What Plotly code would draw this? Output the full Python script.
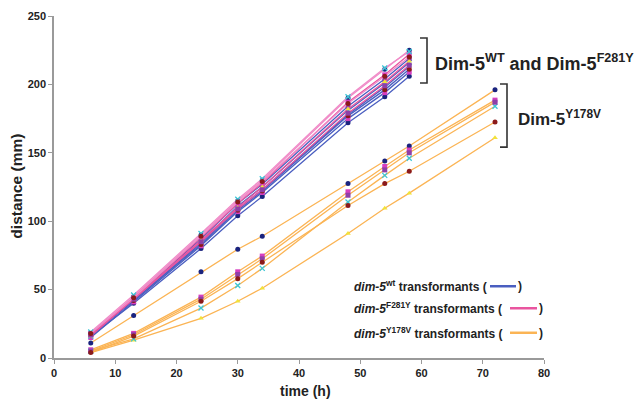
import plotly.graph_objects as go

# ---------------- data ----------------
t_wt = [6, 13, 24, 30, 34, 48, 54, 58]
t_y178v = [6, 13, 24, 30, 34, 48, 54, 58, 72]

wt_1 = [16, 40, 80, 104, 118, 172, 191, 206]
wt_2 = [15, 41, 82, 107, 121, 175, 194, 209]
wt_3 = [17, 42, 84, 109, 123, 178, 198, 213]
wt_4 = [16, 43, 85, 111, 125, 181, 201, 216]
wt_5 = [18, 44, 87, 113, 127, 184, 204, 219]
wt_6 = [17, 42, 83, 108, 122, 177, 196, 211]

f281y_1 = [18, 45, 90, 115, 130, 190, 211, 225]
f281y_2 = [17, 44, 88, 113, 128, 187, 207, 222]
f281y_3 = [16, 43, 86, 110, 125, 182, 202, 217]
f281y_4 = [19, 46, 91, 116, 131, 191, 212, 224]
f281y_5 = [17, 43, 85, 109, 123, 179, 199, 214]
f281y_6 = [18, 44, 89, 114, 129, 186, 206, 220]

y178v_1 = [11, 31, 63, 79.5, 89, 127.5, 144, 155, 196]
y178v_2 = [6, 18, 44.5, 63, 74.5, 121.5, 140, 152, 188.5]
y178v_3 = [4, 13, 29, 41.5, 51, 91, 109.5, 120.5, 161]
y178v_4 = [5, 14, 36.5, 53, 65.5, 114, 133.5, 146, 184]
y178v_5 = [5, 17, 43, 61, 72.5, 119, 137.5, 150, 187]
y178v_6 = [4, 16, 41.5, 58, 70, 111.5, 127.5, 136.5, 172.5]

x_ticks = [0, 10, 20, 30, 40, 50, 60, 70, 80]
y_ticks = [0, 50, 100, 150, 200, 250]

# ---------------- styles ----------------
marker_colors = ["#1a237e", "#d63fc0", "#f2e23a", "#39c6d6", "#8e3fa8", "#8b1a1a"]
marker_symbols = ["circle", "square", "triangle-up", "x-thin-open", "square", "circle"]
BLUE = "#4a5ec0"
PINK = "#e9559f"
PINK_L = "#f08cc8"
ORANGE = "#fbb454"

fig = go.Figure()

def add_series(x, y, line_color, k, width=1.3):
    sym = marker_symbols[k]
    mk = dict(color=marker_colors[k], size=5, symbol=sym)
    if sym.endswith("open"):
        mk["line"] = dict(color=marker_colors[k], width=1.3)
    fig.add_trace(go.Scatter(x=x, y=y, mode="lines+markers",
                             line=dict(color=line_color, width=width),
                             marker=mk, showlegend=False, hoverinfo="x+y"))

for k, s in enumerate([y178v_1, y178v_2, y178v_3, y178v_4, y178v_5, y178v_6]):
    add_series(t_y178v, s, ORANGE, k)
for k, s in enumerate([wt_1, wt_2, wt_3, wt_4, wt_5, wt_6]):
    add_series(t_wt, s, BLUE, k)
pinks = [PINK_L, PINK, PINK, PINK_L, PINK, PINK_L]
for k, s in enumerate([f281y_1, f281y_2, f281y_3, f281y_4, f281y_5, f281y_6]):
    add_series(t_wt, s, pinks[k], k)

# ---------------- layout helpers (pixel -> paper) ----------------
L, R, T, B = 54, 544, 16, 357.7
def px(x):
    return (x - L) / (R - L)
def py(y):
    return (B - y) / (B - T)

FONT = "Liberation Sans, Arial, sans-serif"
TXT = "#222222"

shapes = []
# brackets
for (x0, x1, y0, y1) in [(420, 427, 38, 83), (500, 507, 84, 147)]:
    shapes.append(dict(type="path", xref="paper", yref="paper",
                       path=f"M {px(x0)} {py(y0)} L {px(x1)} {py(y0)} L {px(x1)} {py(y1)} L {px(x0)} {py(y1)}",
                       line=dict(color="#333333", width=1.6)))
# legend line samples
for (x0, x1, yy, c) in [(490, 516, 286, BLUE), (510, 537, 308, PINK), (510, 537, 332.5, ORANGE)]:
    shapes.append(dict(type="line", xref="paper", yref="paper",
                       x0=px(x0), x1=px(x1), y0=py(yy), y1=py(yy),
                       line=dict(color=c, width=2.5)))

LEG = 12
annotations = [
    dict(text="<b>Dim-5<sup>WT</sup> and Dim-5<sup>F281Y</sup></b>", x=px(433), y=py(62),
         xanchor="left", yanchor="middle", font=dict(size=18)),
    dict(text="<b>Dim-5<sup>Y178V</sup></b>", x=px(516), y=py(118),
         xanchor="left", yanchor="middle", font=dict(size=17)),
    dict(text="<b><i>dim-5</i><sup>wt</sup> transformants (</b>", x=px(352), y=py(286),
         xanchor="left", yanchor="middle", font=dict(size=LEG)),
    dict(text="<b>)</b>", x=px(516), y=py(286), xanchor="left", yanchor="middle", font=dict(size=LEG)),
    dict(text="<b><i>dim-5</i><sup>F281Y</sup> transformants (</b>", x=px(352), y=py(308),
         xanchor="left", yanchor="middle", font=dict(size=LEG)),
    dict(text="<b>)</b>", x=px(537), y=py(308), xanchor="left", yanchor="middle", font=dict(size=LEG)),
    dict(text="<b><i>dim-5</i><sup>Y178V</sup> transformants (</b>", x=px(352), y=py(332.5),
         xanchor="left", yanchor="middle", font=dict(size=LEG)),
    dict(text="<b>)</b>", x=px(537), y=py(332.5), xanchor="left", yanchor="middle", font=dict(size=LEG)),
    # axis titles
    dict(text="<b>time (h)</b>", x=px(305), y=py(391), xanchor="center", yanchor="middle",
         font=dict(size=14)),
    dict(text="<b>distance (mm)</b>", x=px(16.5), y=py(186), xanchor="center", yanchor="middle",
         textangle=-90, font=dict(size=15.5)),
]
for a in annotations:
    a.update(xref="paper", yref="paper", showarrow=False)
    a["font"].update(family=FONT, color=TXT)

fig.update_layout(
    width=641, height=405,
    margin=dict(l=L, r=641 - R, t=T, b=405 - B, autoexpand=False),
    paper_bgcolor="white", plot_bgcolor="white",
    font=dict(family=FONT, color=TXT),
    shapes=shapes, annotations=annotations,
    xaxis=dict(range=[0, 80], tickvals=x_ticks, ticktext=[f"<b>{v}</b>" for v in x_ticks],
               showgrid=False, zeroline=False, showline=True, linecolor="#9a9a9a", linewidth=1.5,
               ticks="outside", ticklen=4, tickcolor="#9a9a9a", automargin=False,
               tickfont=dict(size=11, color=TXT)),
    yaxis=dict(range=[0, 250], tickvals=y_ticks, ticktext=[f"<b>{v}</b>" for v in y_ticks],
               showgrid=False, zeroline=False, showline=True, linecolor="#9a9a9a", linewidth=1.5,
               ticks="outside", ticklen=4, tickcolor="#9a9a9a", automargin=False,
               tickfont=dict(size=11, color=TXT)),
)

fig.write_html("out.html", config={"displayModeBar": False},
               post_script="document.body.style.margin='0';document.body.style.overflow='hidden';")
